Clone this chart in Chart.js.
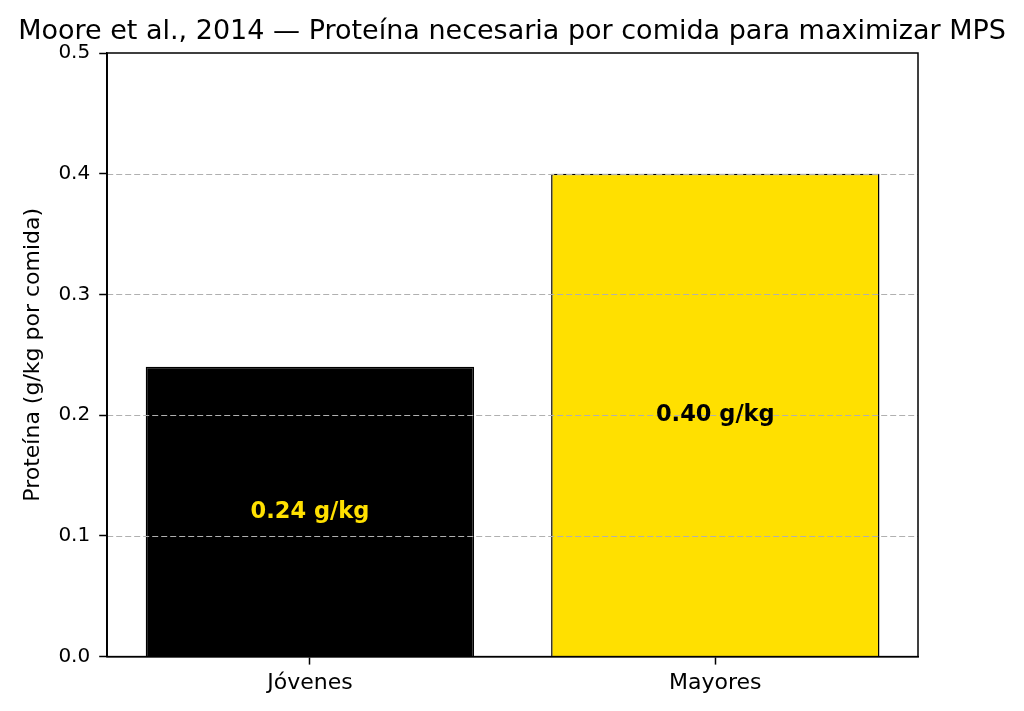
<!DOCTYPE html>
<html>
<head>
<meta charset="utf-8">
<script src="https://cdn.jsdelivr.net/npm/chart.js@4/dist/chart.umd.min.js"></script>
<style>
html,body{margin:0;padding:0;background:#fff;}
#wrap{width:1024px;height:711px;position:relative;}
</style>
</head>
<body>
<div id="wrap"><canvas id="c"></canvas></div>
<script>
const categories = ["Jóvenes", "Mayores"];
const values = [0.24, 0.40];
const valueLabels = ["0.24 g/kg", "0.40 g/kg"];
const barColors = ["#000000", "#FFE000"];
const labelColors = ["#FFE000", "#000000"];
const yTicks = [0.0, 0.1, 0.2, 0.3, 0.4, 0.5];
const titleText = "Moore et al., 2014 — Proteína necesaria por comida para maximizar MPS";
const yTitle = "Proteína (g/kg por comida)";

const FONT = "'DejaVu Sans', sans-serif";

const overlay = {
  id: 'overlay',
  afterDatasetsDraw(chart) {
    const {ctx, chartArea: a, scales: {x, y}} = chart;
    ctx.save();
    // dashed grid over bars
    ctx.strokeStyle = '#b0b0b0';
    ctx.lineWidth = 1.2;
    ctx.setLineDash([6, 3]);
    yTicks.forEach(v => {
      if (v <= 0 || v >= 0.5) return;
      const py = Math.round(y.getPixelForValue(v)) + 0.5;
      ctx.beginPath(); ctx.moveTo(a.left, py); ctx.lineTo(a.right, py); ctx.stroke();
    });
    ctx.setLineDash([]);
    // bar value labels
    ctx.font = "bold 22.5px " + FONT;
    ctx.textAlign = 'center';
    ctx.textBaseline = 'middle';
    const meta = chart.getDatasetMeta(0);
    meta.data.forEach((bar, i) => {
      ctx.fillStyle = labelColors[i];
      ctx.fillText(valueLabels[i], bar.x, y.getPixelForValue(values[i] / 2));
    });
    // frame
    ctx.strokeStyle = '#000';
    ctx.lineWidth = 1.5;
    ctx.strokeRect(a.left, a.top, a.right - a.left, a.bottom - a.top);
    // title centered on canvas
    ctx.fillStyle = '#000';
    ctx.font = "27px " + FONT;
    ctx.textAlign = 'center';
    ctx.textBaseline = 'alphabetic';
    ctx.fillText(titleText, chart.width / 2, 39);
    ctx.restore();
  }
};

new Chart(document.getElementById('c'), {
  type: 'bar',
  data: {
    labels: categories,
    datasets: [{
      data: values,
      backgroundColor: barColors,
      borderColor: '#000000',
      borderWidth: 1.5,
      barPercentage: 0.81,
      categoryPercentage: 1.0
    }]
  },
  options: {
    responsive: true,
    maintainAspectRatio: false,
    animation: false,
    layout: { padding: { left: 20, right: 106, top: 53, bottom: 10 } },
    plugins: {
      legend: { display: false },
      tooltip: { enabled: false },
      title: { display: false }
    },
    scales: {
      x: {
        offset: true,
        grid: { display: true, drawOnChartArea: false, drawTicks: true, tickLength: 8, tickColor: '#000', offset: false, tickWidth: 1.5 },
        border: { display: true, color: '#000', width: 1.5 },
        ticks: { color: '#000', font: { family: FONT, size: 22 }, padding: 5 }
      },
      y: {
        min: 0, max: 0.5,
        afterBuildTicks(scale) { scale.ticks = yTicks.map(v => ({value: v})); },
        grid: { display: true, drawOnChartArea: false, drawTicks: true, tickLength: 8, tickColor: '#000', tickWidth: 1.5 },
        border: { display: true, color: '#000', width: 1.5 },
        ticks: { color: '#000', font: { family: FONT, size: 20 }, padding: 9, callback: v => Number(v).toFixed(1) },
        title: { display: true, text: yTitle, color: '#000', font: { family: FONT, size: 22 }, padding: { top: 0, bottom: 3 } }
      }
    }
  },
  plugins: [overlay]
});
</script>
</body>
</html>
